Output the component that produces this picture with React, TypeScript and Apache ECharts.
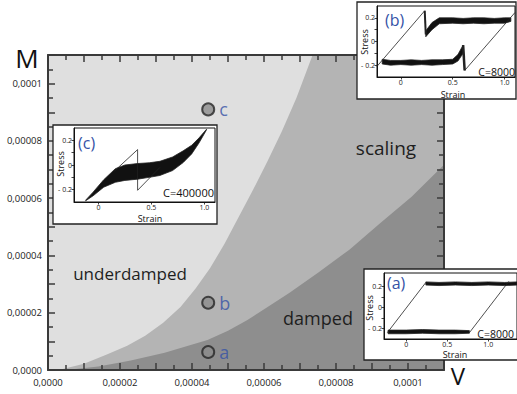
import React, { useEffect, useRef } from "react";
import * as echarts from "echarts";

// ---------- main phase diagram (V, M) ----------
const mainTickValues = [0, 0.00002, 0.00004, 0.00006, 0.00008, 0.0001];
const xTickLabels = ["0,0000", "0,00002", "0,00004", "0,00006", "0,00008", "0,0001"];
const yTickLabels = ["0,0000", "0,00002", "0,00004", "0,00006", "0,00008", "0,0001"];

// boundary between underdamped (light) and scaling (medium) regions
const boundaryUnderdamped = [
  [0, 0], [0.000003, 0], [0.00001, 0.0000022], [0.0000165, 0.0000055], [0.000022, 0.0000085],
  [0.000027, 0.000012], [0.000032, 0.0000165], [0.0000368, 0.000022], [0.000041, 0.0000285],
  [0.000045, 0.0000355], [0.000049, 0.000044], [0.000053, 0.0000535], [0.000057, 0.000063],
  [0.000061, 0.000073], [0.000065, 0.0000835], [0.000069, 0.000095], [0.0000735, 0.00011],
  [0.00011, 0.00011],
];
// boundary between scaling (medium) and damped (dark) regions
const boundaryDamped = [
  [0, 0], [0.000005, 0], [0.000014, 0.0000012], [0.000023, 0.0000033], [0.0000324, 0.000006],
  [0.0000443, 0.0000105], [0.00005, 0.0000137], [0.0000554, 0.0000175], [0.000061, 0.000022],
  [0.0000671, 0.000027], [0.000075, 0.000034], [0.0000838, 0.0000421], [0.000092, 0.000051],
  [0.000101, 0.0000605], [0.00011, 0.0000717],
];

const pointNames = ["a", "b", "c"];
const pointV = [0.0000445, 0.0000445, 0.0000445];
const pointM = [0.0000063, 0.0000235, 0.000091];

// ---------- insets: stress vs strain ----------
const strainTicks = [0, 0.5, 1.0];
const strainTickLabels = ["0", "0.5", "1.0"];
const stressTicks = [-0.2, -0.1, 0, 0.1, 0.2];
const stressLabelValues = [-0.2, 0, 0.2];
const stressTickLabels = ["- 0.2", "0", "0.2"];

// inset (c) C=400000
const thinC = [[0.15, -0.05], [0.37, 0.125], [0.37, -0.205], [0.58, -0.02]];
const bandCTop = [[-0.12, -0.285], [-0.05, -0.22], [0.05, -0.12], [0.16, -0.03], [0.25, 0.0], [0.37, 0.012], [0.48, 0.018], [0.58, 0.03], [0.7, 0.065], [0.8, 0.115], [0.88, 0.16], [0.95, 0.22], [1.02, 0.29]];
const bandCBottom = [[-0.12, -0.29], [-0.05, -0.25], [0.05, -0.18], [0.16, -0.14], [0.25, -0.125], [0.37, -0.115], [0.48, -0.1], [0.58, -0.085], [0.7, -0.045], [0.8, 0.02], [0.88, 0.09], [0.95, 0.18], [1.02, 0.285]];

// inset (b) C=8000
const leftDiagB = [[-0.23, -0.21], [0.23, 0.26]];
const dropUpperB = [[0.23, 0.26], [0.24, 0.06]];
const rightDiagB = [[0.615, -0.245], [1.1, 0.245]];
const dropLowerB = [[0.6, -0.03], [0.615, -0.245]];
const upperBandBTop = [[0.24, 0.09], [0.3, 0.16], [0.37, 0.2], [0.5, 0.2], [0.6, 0.195], [0.7, 0.2], [0.8, 0.2], [0.9, 0.195], [1.0, 0.2], [1.06, 0.2]];
const upperBandBBottom = [[0.24, 0.04], [0.3, 0.1], [0.37, 0.15], [0.5, 0.155], [0.6, 0.15], [0.7, 0.155], [0.8, 0.15], [0.9, 0.155], [1.0, 0.155], [1.06, 0.17]];
const lowerBandBTop = [[-0.18, -0.15], [-0.1, -0.16], [0.0, -0.16], [0.1, -0.155], [0.2, -0.16], [0.3, -0.155], [0.4, -0.155], [0.5, -0.15], [0.55, -0.11], [0.6, -0.03]];
const lowerBandBBottom = [[-0.18, -0.19], [-0.1, -0.2], [0.0, -0.195], [0.1, -0.2], [0.2, -0.195], [0.3, -0.2], [0.4, -0.195], [0.5, -0.19], [0.55, -0.165], [0.6, -0.1]];

// inset (a) C=8000 (damped)
const leftDiagA = [[-0.23, -0.24], [0.24, 0.24]];
const rightDiagA = [[0.77, -0.24], [1.25, 0.25]];
const lowerBandATop = [[-0.22, -0.215], [0.0, -0.215], [0.2, -0.21], [0.4, -0.215], [0.6, -0.215], [0.77, -0.22]];
const lowerBandABottom = [[-0.22, -0.25], [0.0, -0.25], [0.2, -0.245], [0.4, -0.25], [0.6, -0.25], [0.77, -0.245]];
const upperBandATop = [[0.24, 0.245], [0.4, 0.24], [0.6, 0.245], [0.8, 0.24], [1.0, 0.245], [1.2, 0.24], [1.35, 0.245]];
const upperBandABottom = [[0.24, 0.215], [0.4, 0.21], [0.6, 0.215], [0.8, 0.21], [1.0, 0.215], [1.2, 0.21], [1.35, 0.215]];

const FONT = "'Open Sans', 'DejaVu Sans', sans-serif";
const AXIS_COLOR = "#3a3a3a";
const BLUE = "#3552a6";

function nearestLabel(v: number, values: number[], labels: string[]) {
  let best = 0;
  for (let i = 1; i < values.length; i++) if (Math.abs(values[i] - v) < Math.abs(values[best] - v)) best = i;
  return Math.abs(values[best] - v) < 1e-9 + Math.abs(values[1] - values[0]) / 4 ? labels[best] : "";
}

function mainAxis(kind: "x" | "y", position: string, showLabels: boolean) {
  return {
    type: "value",
    gridIndex: 0,
    position,
    min: 0,
    max: 0.00011,
    interval: 0.00001,
    z: 3,
    axisLine: { show: true, onZero: false, lineStyle: { color: AXIS_COLOR, width: 2 } },
    axisTick: { show: true, inside: true, length: 7, lineStyle: { color: AXIS_COLOR, width: 1.5 } },
    minorTick: { show: true, splitNumber: 2, length: 5, lineStyle: { color: AXIS_COLOR, width: 1.5 } },
    splitLine: { show: false },
    minorSplitLine: { show: false },
    axisLabel: showLabels
      ? {
          show: true,
          customValues: mainTickValues,
          formatter: (v: number) => nearestLabel(v, mainTickValues, kind === "x" ? xTickLabels : yTickLabels),
          fontFamily: FONT,
          fontSize: 9.5,
          color: "#222",
          margin: kind === "x" ? 7 : 6,
        }
      : { show: false },
  };
}

function insetX(grid: number, min: number, max: number) {
  return {
    type: "value",
    gridIndex: grid,
    position: "bottom",
    min,
    max,
    z: 7,
    axisLine: { show: true, onZero: false, lineStyle: { color: "#111", width: 1 } },
    axisTick: { show: true, inside: false, length: 2.5, customValues: strainTicks, lineStyle: { color: "#111", width: 0.8 } },
    axisLabel: {
      customValues: strainTicks,
      formatter: (v: number) => nearestLabel(v, strainTicks, strainTickLabels),
      fontFamily: FONT,
      fontSize: 7,
      margin: 2,
      color: "#222",
    },
    splitLine: { show: false },
  };
}

function insetY(grid: number, min: number, max: number) {
  return {
    type: "value",
    gridIndex: grid,
    position: "left",
    min,
    max,
    z: 7,
    axisLine: { show: true, onZero: false, lineStyle: { color: "#111", width: 1 } },
    axisTick: { show: true, inside: false, length: 2.5, customValues: stressTicks, lineStyle: { color: "#111", width: 0.8 } },
    axisLabel: {
      customValues: stressLabelValues,
      formatter: (v: number) => nearestLabel(v, stressLabelValues, stressTickLabels),
      fontFamily: FONT,
      fontSize: 7,
      margin: 2,
      color: "#222",
    },
    splitLine: { show: false },
  };
}

function band(axisIdx: number, upper: number[][], lower: number[][]) {
  return {
    type: "custom",
    xAxisIndex: axisIdx,
    yAxisIndex: axisIdx,
    silent: true,
    clip: true,
    z: 8,
    data: [upper[0]],
    renderItem: (_params: any, api: any) => {
      const pts = upper.concat([...lower].reverse()).map((p) => api.coord(p));
      return { type: "polygon", shape: { points: pts }, style: { fill: "#111", stroke: "#222", lineWidth: 0.8 } };
    },
  };
}

function thin(axisIdx: number, data: number[][], width = 0.8) {
  return {
    type: "line",
    xAxisIndex: axisIdx,
    yAxisIndex: axisIdx,
    data,
    showSymbol: false,
    silent: true,
    z: 8,
    lineStyle: { color: "#222", width },
  };
}

function textEl(text: string, x: number, y: number, fontSize: number, fill = "#1e1e1e", align = "center", extra: any = {}) {
  return {
    type: "text",
    x,
    y,
    z: extra.z ?? 9,
    rotation: extra.rotation ?? 0,
    style: {
      text,
      fontSize,
      fontFamily: FONT,
      fill,
      align,
      textAlign: align,
      verticalAlign: "middle",
      textVerticalAlign: "middle",
    },
  };
}

function boxEl(x: number, y: number, w: number, h: number) {
  return {
    type: "rect",
    z: 5,
    shape: { x, y, width: w, height: h },
    style: { fill: "#ffffff", stroke: "#222", lineWidth: 1.3 },
  };
}

function areaSeries(data: number[][], color: string) {
  return {
    type: "line",
    xAxisIndex: 0,
    yAxisIndex: 0,
    data,
    showSymbol: false,
    smooth: false,
    silent: true,
    z: 1,
    lineStyle: { width: 0 },
    areaStyle: { color, opacity: 1 },
  };
}

export default function App() {
  const ref = useRef<HTMLDivElement>(null);
  useEffect(() => {
    if (!ref.current) return;
    const chart = echarts.init(ref.current, undefined, { renderer: "svg" });
    const option: any = {
      animation: false,
      backgroundColor: "#ffffff",
      grid: [
        { left: 48, top: 55, width: 396, height: 315, show: true, backgroundColor: "#dfdfdf", borderWidth: 0, z: 0 },
        { left: 74, top: 128, width: 141, height: 74, show: true, backgroundColor: "#ffffff", borderColor: "#111", borderWidth: 1, z: 6 },
        { left: 377, top: 6, width: 138, height: 71, show: true, backgroundColor: "#ffffff", borderColor: "#111", borderWidth: 1, z: 6 },
        { left: 384, top: 273, width: 144, height: 66, show: true, backgroundColor: "#ffffff", borderColor: "#111", borderWidth: 1, z: 6 },
      ],
      xAxis: [
        mainAxis("x", "bottom", true),
        mainAxis("x", "top", false),
        insetX(1, -0.23, 1.1),
        insetX(2, -0.23, 1.1),
        insetX(3, -0.27, 1.35),
      ],
      yAxis: [
        mainAxis("y", "left", true),
        mainAxis("y", "right", false),
        insetY(1, -0.3, 0.3),
        insetY(2, -0.3, 0.3),
        insetY(3, -0.3, 0.33),
      ],
      series: [
        areaSeries(boundaryUnderdamped, "#b4b4b4"),
        areaSeries(boundaryDamped, "#8e8e8e"),
        {
          type: "scatter",
          xAxisIndex: 0,
          yAxisIndex: 0,
          z: 4,
          symbolSize: 12,
          data: pointNames.map((n, i) => ({ name: n, value: [pointV[i], pointM[i]] })),
          itemStyle: { color: "#8c8c8c", borderColor: "#262626", borderWidth: 2 },
          label: {
            show: true,
            position: "right",
            distance: 4,
            formatter: (p: any) => p.name,
            color: BLUE,
            fontFamily: FONT,
            fontSize: 18,
          },
        },
        // inset (c)
        band(2, bandCTop, bandCBottom),
        thin(2, thinC),
        // inset (b)
        thin(3, leftDiagB),
        thin(3, rightDiagB),
        thin(3, dropUpperB, 2),
        thin(3, dropLowerB, 2.5),
        band(3, upperBandBTop, upperBandBBottom),
        band(3, lowerBandBTop, lowerBandBBottom),
        // inset (a)
        thin(4, leftDiagA),
        thin(4, rightDiagA),
        band(4, lowerBandATop, lowerBandABottom),
        band(4, upperBandATop, upperBandABottom),
      ],
      graphic: [
        textEl("M", 27, 58, 26, "#111", "center", { z: 4 }),
        textEl("V", 458, 375, 24, "#111", "center", { z: 4 }),
        textEl("underdamped", 130, 273, 17, "#1e1e1e", "center", { z: 4 }),
        textEl("scaling", 386, 148, 19, "#1e1e1e", "center", { z: 4 }),
        textEl("damped", 318, 318, 18, "#1e1e1e", "center", { z: 4 }),
        // inset boxes
        boxEl(53, 125, 164, 99),
        boxEl(357, 2, 159, 97),
        boxEl(364, 269, 170, 91),
        // inset (c) texts
        textEl("(c)", 78, 143, 16, BLUE, "left"),
        textEl("C=400000", 214, 192, 11, "#111", "right"),
        textEl("Stress", 60, 164, 9, "#111", "center", { rotation: Math.PI / 2 }),
        textEl("Strain", 150, 218, 9, "#111", "center"),
        // inset (b) texts
        textEl("(b)", 385, 20, 16, BLUE, "left"),
        textEl("C=8000", 515, 72, 10.5, "#111", "right"),
        textEl("Stress", 364, 42, 9, "#111", "center", { rotation: Math.PI / 2 }),
        textEl("Strain", 453, 94, 9, "#111", "center"),
        // inset (a) texts
        textEl("(a)", 387, 283, 16, BLUE, "left"),
        textEl("C=8000", 514, 334, 10.5, "#111", "right"),
        textEl("Stress", 369, 308, 9, "#111", "center", { rotation: Math.PI / 2 }),
        textEl("Strain", 455, 354, 9, "#111", "center"),
      ],
    };
    chart.setOption(option);
    return () => chart.dispose();
  }, []);
  return <div ref={ref} style={{ position: "fixed", left: 0, top: 0, width: 517, height: 394 }} />;
}
